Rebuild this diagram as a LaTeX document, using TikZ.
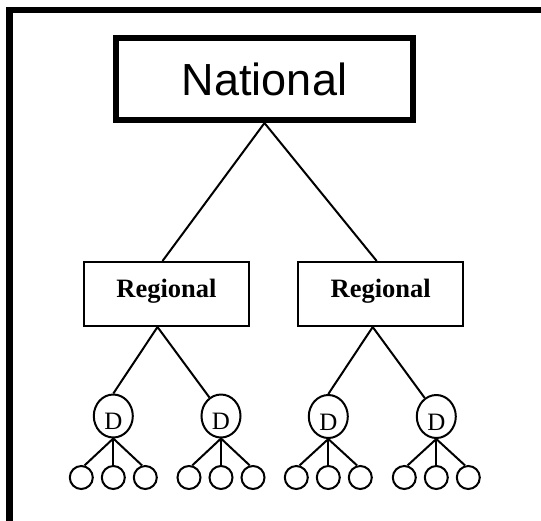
\documentclass[tikz,border=0pt]{standalone}
\usepackage{fontspec}
\setmainfont{Liberation Serif}
\newfontfamily\arialfont{Liberation Sans}
\usetikzlibrary{shapes.geometric}
\begin{document}
\begin{tikzpicture}[x=1pt,y=-1pt,
  thinline/.style={line width=2pt},
  natbox/.style={draw,line width=6pt,minimum width=297pt,minimum height=82pt,inner sep=0pt,
    font=\arialfont\fontsize{45}{50}\selectfont},
  regbox/.style={draw,line width=2pt,minimum width=165pt,minimum height=64pt,inner sep=0pt,
    font=\bfseries\fontsize{26.5}{30}\selectfont,text height=18pt,text depth=11pt},
  dnode/.style={draw,ellipse,line width=2pt,minimum width=39pt,minimum height=43pt,inner sep=0pt,
    font=\fontsize{25}{28}\selectfont,text height=27pt,text depth=0pt},
  leaf/.style={draw,circle,line width=2pt,minimum size=23pt,inner sep=0pt}]
\useasboundingbox (0,0) rectangle (541,520);
\fill[white] (0,0) rectangle (541,520);

% frame along the top and left edges
\draw[line width=6.5pt] (545,10) -- (9.7,10) -- (9.7,525);

% national level
\node[natbox] (nat) at (264.5,79) {National};

% regional level
\node[regbox] (r1) at (166.5,294) {Regional};
\node[regbox] (r2) at (380.7,294) {Regional};
\draw[thinline] ([xshift=-4pt]r1.north) -- (nat.south) -- ([xshift=-4pt]r2.north);

% district level
\node[dnode] (d1) at (113.3,416) {D};
\node[dnode] (d2) at (221,416) {D};
\node[dnode] (d3) at (328.3,416.5) {D};
\node[dnode] (d4) at (436.3,416.5) {D};
\coordinate (j1) at ([xshift=-9pt]r1.south);
\coordinate (j2) at ([xshift=-8pt]r2.south);
\draw[thinline] (d1.north) -- (j1) -- (d2.122);
\draw[thinline] (d3.north) -- (j2) -- (d4.122);

% local units under each district
\foreach \d/\x in {d1/113.3,d2/221,d3/328.3,d4/436.3}{
  \node[leaf] (\d a) at (\x-32,477.5) {};
  \node[leaf] (\d b) at (\x,477.5) {};
  \node[leaf] (\d c) at (\x+32,477.5) {};
  \draw[thinline] (\d a.75) -- (\d.south) -- (\d c.105);
  \draw[thinline] (\d.south) -- (\d b.north);
}
\end{tikzpicture}
\end{document}
